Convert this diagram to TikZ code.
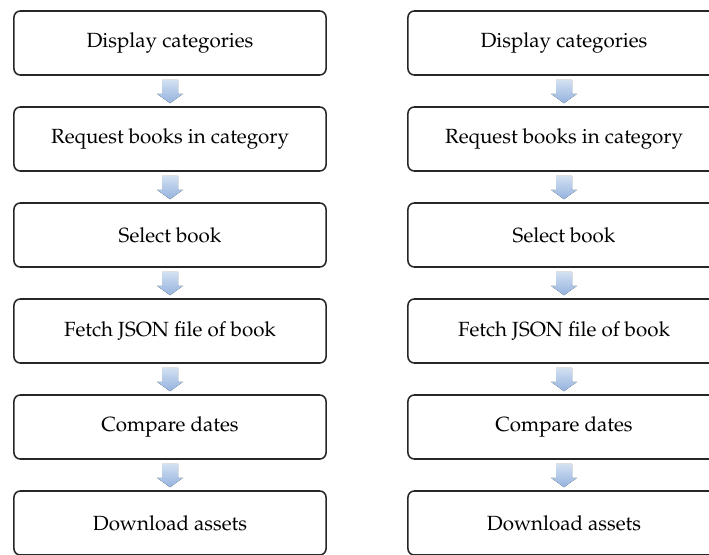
\documentclass[tikz,border=0pt]{standalone}
\usepackage[T1]{fontenc}
\usepackage{mathpazo}
\usetikzlibrary{calc}

\definecolor{pfeilhell}{HTML}{D3E0F1}
\definecolor{pfeildunkel}{HTML}{93B3DE}

\begin{document}
\begin{tikzpicture}[x=0.025cm,y=-0.025cm,
	schritt/.style={draw=black!85,line width=1.1pt,rounded corners=4.5pt,
		minimum width=7.8cm,minimum height=1.6cm,inner sep=0pt,
		font=\fontsize{14.6}{17}\selectfont}]
\clip (0,0) rectangle (709,554);

\def\pfeil#1#2{
	\fill[top color=pfeilhell,bottom color=pfeildunkel]
		($(#1.south)+(-8,4)$) -- ($(#1.south)+(8,4)$) -- ($(#1.south)+(8,18)$)
		-- ($(#1.south)+(13,18)$) -- ($(#2.north)+(0,-3)$)
		-- ($(#1.south)+(-13,18)$) -- ($(#1.south)+(-8,18)$) -- cycle;
}

% linke Spalte
\node[schritt] (l1) at (170,43) {Display categories};
\node[schritt] (l2) at (170,139) {Request books in category};
\node[schritt] (l3) at (170,235) {Select book};
\node[schritt] (l4) at (170,331) {Fetch JSON file of book};
\node[schritt] (l5) at (170,427) {Compare dates};
\node[schritt] (l6) at (170,523) {Download assets};

% rechte Spalte
\node[schritt] (r1) at (564,43) {Display categories};
\node[schritt] (r2) at (564,139) {Request books in category};
\node[schritt] (r3) at (564,235) {Select book};
\node[schritt] (r4) at (564,331) {Fetch JSON file of book};
\node[schritt] (r5) at (564,427) {Compare dates};
\node[schritt] (r6) at (564,523) {Download assets};

\pfeil{l1}{l2}
\pfeil{l2}{l3}
\pfeil{l3}{l4}
\pfeil{l4}{l5}
\pfeil{l5}{l6}

\pfeil{r1}{r2}
\pfeil{r2}{r3}
\pfeil{r3}{r4}
\pfeil{r4}{r5}
\pfeil{r5}{r6}

\end{tikzpicture}
\end{document}
